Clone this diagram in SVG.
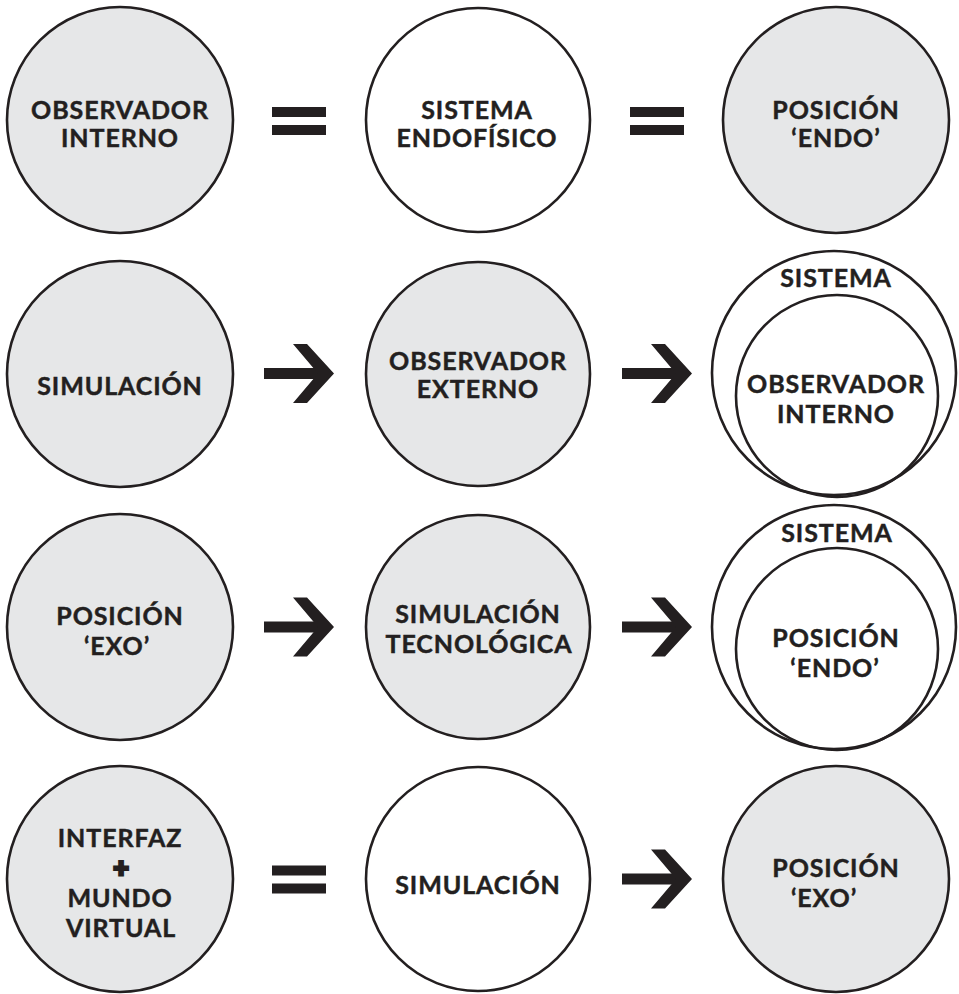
<svg xmlns="http://www.w3.org/2000/svg" width="959" height="994" viewBox="0 0 959 994">
  <style>
    .node { stroke: #231f20; stroke-width: 2.6; }
    .grey { fill: #e6e7e8; }
    .white { fill: #ffffff; }
    .inner { fill: none; stroke: #231f20; stroke-width: 2.6; }
    .label { font-family: Lato, "Liberation Sans", sans-serif; font-weight: 700; font-size: 25px; letter-spacing: 0.9px; fill: #231f20; stroke: #231f20; stroke-width: 0.45; text-anchor: middle; }
    .plus { font-family: Lato, "Liberation Sans", sans-serif; font-weight: 900; font-size: 27px; fill: #231f20; stroke: #231f20; stroke-width: 2.8; text-anchor: middle; }
    .sym { fill: #231f20; }
  </style>
  <defs>
    <!-- equals sign, origin at its left edge / vertical centre -->
    <g id="equals">
      <rect class="sym" x="0" y="-14" width="54" height="10"/>
      <rect class="sym" x="0" y="4" width="54" height="10"/>
    </g>
    <!-- arrow, origin at shaft start / vertical centre -->
    <g id="arrow">
      <rect class="sym" x="0" y="-5.5" width="57" height="11"/>
      <polygon class="sym" points="29,-29.5 43,-29.5 70,0 43,29.5 29,29.5 54,0"/>
    </g>
  </defs>

  <!-- row 1 -->
  <g id="observador-interno-1">
    <circle class="node grey" cx="120" cy="120" r="113"/>
    <text class="label" x="120" y="119">OBSERVADOR</text>
    <text class="label" x="120" y="147">INTERNO</text>
  </g>
  <g id="sistema-endofisico">
    <circle class="node white" cx="478" cy="120" r="112"/>
    <text class="label" x="477" y="119">SISTEMA</text>
    <text class="label" x="477" y="147">ENDOFÍSICO</text>
  </g>
  <g id="posicion-endo-1">
    <circle class="node grey" cx="836" cy="120" r="113"/>
    <text class="label" x="836" y="119">POSICIÓN</text>
    <text class="label" x="836" y="147">‘ENDO’</text>
  </g>

  <!-- row 2 -->
  <g id="simulacion-1">
    <circle class="node grey" cx="120" cy="374" r="113"/>
    <text class="label" x="120" y="395">SIMULACIÓN</text>
  </g>
  <g id="observador-externo">
    <circle class="node grey" cx="478" cy="374" r="112"/>
    <text class="label" x="478" y="370">OBSERVADOR</text>
    <text class="label" x="478" y="398">EXTERNO</text>
  </g>
  <g id="sistema-observador-interno">
    <circle class="node white" cx="834" cy="373" r="122"/>
    <circle class="inner" cx="837" cy="396" r="101"/>
    <text class="label" x="836" y="287">SISTEMA</text>
    <text class="label" x="836" y="393">OBSERVADOR</text>
    <text class="label" x="836" y="423">INTERNO</text>
  </g>

  <!-- row 3 -->
  <g id="posicion-exo-1">
    <circle class="node grey" cx="120" cy="627" r="113"/>
    <text class="label" x="120" y="625">POSICIÓN</text>
    <text class="label" x="117" y="655">‘EXO’</text>
  </g>
  <g id="simulacion-tecnologica">
    <circle class="node grey" cx="478" cy="627" r="112"/>
    <text class="label" x="478" y="623">SIMULACIÓN</text>
    <text class="label" x="479" y="653">TECNOLÓGICA</text>
  </g>
  <g id="sistema-posicion-endo">
    <circle class="node white" cx="834" cy="627" r="122"/>
    <circle class="inner" cx="837" cy="649" r="101"/>
    <text class="label" x="837" y="542">SISTEMA</text>
    <text class="label" x="836" y="647">POSICIÓN</text>
    <text class="label" x="835" y="677">‘ENDO’</text>
  </g>

  <!-- row 4 -->
  <g id="interfaz-mundo-virtual">
    <circle class="node grey" cx="120" cy="879" r="113"/>
    <text class="label" x="120" y="847">INTERFAZ</text>
    <text class="plus" x="121" y="877">+</text>
    <text class="label" x="120" y="907">MUNDO</text>
    <text class="label" x="121" y="937">VIRTUAL</text>
  </g>
  <g id="simulacion-2">
    <circle class="node white" cx="478" cy="879" r="112"/>
    <text class="label" x="478" y="894">SIMULACIÓN</text>
  </g>
  <g id="posicion-exo-2">
    <circle class="node grey" cx="836" cy="879" r="113"/>
    <text class="label" x="836" y="877">POSICIÓN</text>
    <text class="label" x="824" y="907">‘EXO’</text>
  </g>

  <!-- connectors -->
  <g id="connectors">
    <use href="#equals" x="272" y="121"/>
    <use href="#equals" x="630" y="121"/>
    <use href="#arrow" x="264" y="373.5"/>
    <use href="#arrow" x="622" y="373.5"/>
    <use href="#arrow" x="264" y="627"/>
    <use href="#arrow" x="622" y="627"/>
    <use href="#equals" x="272" y="879.5"/>
    <use href="#arrow" x="622" y="879"/>
  </g>
</svg>
